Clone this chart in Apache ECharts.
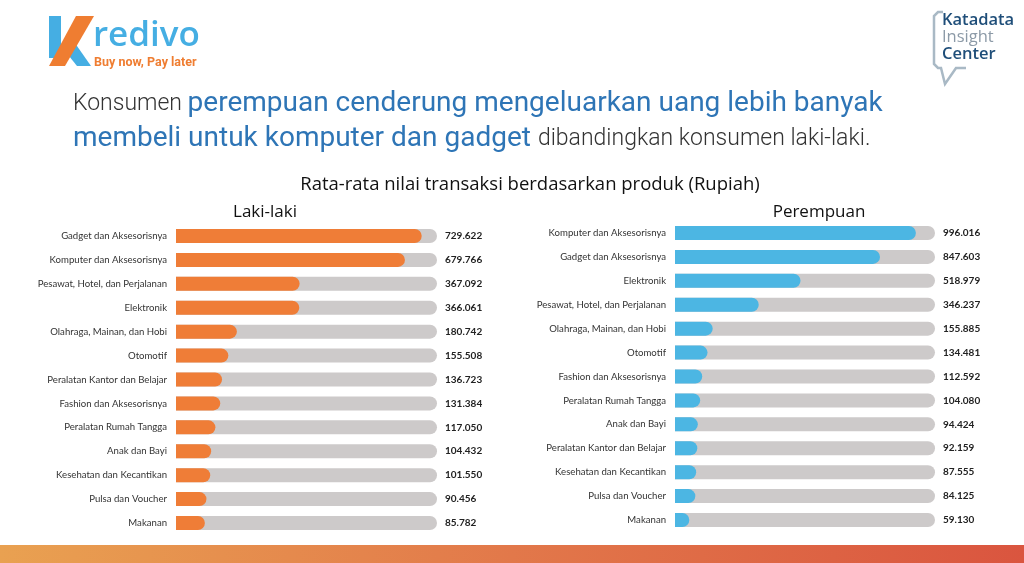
<!DOCTYPE html>
<html>
<head>
<meta charset="utf-8">
<script src="https://cdn.jsdelivr.net/npm/echarts@6/dist/echarts.min.js"></script>
<style>
html,body{margin:0;padding:0;background:#fff;}
#chart{width:1024px;height:563px;}
</style>
</head>
<body>
<div id="chart"></div>
<script>
// ---- data ----
const categoriesMale = [
  'Gadget dan Aksesorisnya',
  'Komputer dan Aksesorisnya',
  'Pesawat, Hotel, dan Perjalanan',
  'Elektronik',
  'Olahraga, Mainan, dan Hobi',
  'Otomotif',
  'Peralatan Kantor dan Belajar',
  'Fashion dan Aksesorisnya',
  'Peralatan Rumah Tangga',
  'Anak dan Bayi',
  'Kesehatan dan Kecantikan',
  'Pulsa dan Voucher',
  'Makanan'
];
const valuesMale = [729.622, 679.766, 367.092, 366.061, 180.742, 155.508, 136.723, 131.384, 117.050, 104.432, 101.550, 90.456, 85.782];

const categoriesFemale = [
  'Komputer dan Aksesorisnya',
  'Gadget dan Aksesorisnya',
  'Elektronik',
  'Pesawat, Hotel, dan Perjalanan',
  'Olahraga, Mainan, dan Hobi',
  'Otomotif',
  'Fashion dan Aksesorisnya',
  'Peralatan Rumah Tangga',
  'Anak dan Bayi',
  'Peralatan Kantor dan Belajar',
  'Kesehatan dan Kecantikan',
  'Pulsa dan Voucher',
  'Makanan'
];
const valuesFemale = [996.016, 847.603, 518.979, 346.237, 155.885, 134.481, 112.592, 104.080, 94.424, 92.159, 87.555, 84.125, 59.130];

const trackMaxMale = 775;
const trackMaxFemale = 1075;

// ---- styles ----
const labelFont = 'Lato';
const orange = '#ef7d37';
const blue = '#4cb6e3';
const track = '#cdcaca';

const chart = echarts.init(document.getElementById('chart'), null, {renderer: 'canvas'});

function yAxisFor(cats, gi) {
  return {
    type: 'category', gridIndex: gi, inverse: true, data: cats,
    axisLine: {show: false}, axisTick: {show: false}, splitLine: {show: false},
    axisLabel: {color: '#333', fontSize: 9.6, fontFamily: labelFont, margin: 9}
  };
}
function xAxisFor(max, gi) {
  return {type: 'value', gridIndex: gi, min: 0, max: max, show: false};
}
function seriesFor(vals, max, color, gi) {
  return [
    {
      type: 'bar', xAxisIndex: gi, yAxisIndex: gi, silent: true,
      data: vals.map(() => max), barWidth: 14, barGap: '-100%', z: 1,
      itemStyle: {color: track, borderRadius: [0, 7, 7, 0]},
      label: {
        show: true, position: 'right', distance: 8,
        formatter: p => vals[p.dataIndex].toFixed(3),
        color: '#222', fontSize: 10, fontWeight: 'bold', fontFamily: labelFont
      }
    },
    {
      type: 'bar', xAxisIndex: gi, yAxisIndex: gi, silent: true,
      data: vals, barWidth: 14, barGap: '-100%', z: 2,
      itemStyle: {color: color, borderRadius: [0, 7, 7, 0]}
    }
  ];
}

const option = {
  backgroundColor: '#fff',
  animation: false,
  grid: [
    {left: 176, top: 224, width: 261, height: 311},
    {left: 675, top: 221, width: 260, height: 311}
  ],
  xAxis: [xAxisFor(trackMaxMale, 0), xAxisFor(trackMaxFemale, 1)],
  yAxis: [yAxisFor(categoriesMale, 0), yAxisFor(categoriesFemale, 1)],
  series: [].concat(
    seriesFor(valuesMale, trackMaxMale, orange, 0),
    seriesFor(valuesFemale, trackMaxFemale, blue, 1)
  ),
  graphic: [
    // bottom band
    {type: 'rect', shape: {x: 0, y: 545, width: 1024, height: 18}, style: {
      fill: new echarts.graphic.LinearGradient(0, 0, 1, 0, [
        {offset: 0, color: '#e9a151'}, {offset: 0.5, color: '#e2784a'}, {offset: 1, color: '#da553f'}
      ])}},
    // Kredivo logo
    {type: 'polygon', shape: {points: [[49,16],[61,16],[61,58],[49,58]]}, style: {fill: '#45aee3'}},
    {type: 'polygon', shape: {points: [[61,46],[70,36],[91,66],[77,66]]}, style: {fill: '#45aee3'}},
    {type: 'polygon', shape: {points: [[76,16],[94,16],[65,66],[49,66]]}, style: {fill: '#ef7d31'}},
    {type: 'text', x: 93, y: 54, style: {text: 'redivo', fill: '#45aee3', font: '600 35px "Open Sans"', align: 'left', verticalAlign: 'bottom'}},
    {type: 'text', x: 94, y: 63, style: {text: 'Buy now, Pay later', fill: '#ef7d31', font: 'bold 12.5px Roboto', align: 'left', verticalAlign: 'middle'}},
    // Katadata logo
    {type: 'polyline', shape: {points: [[943,12],[938,12],[934,16],[934,64],[938,68],[941,68],[945,84],[956,68],[966,68]]},
      style: {stroke: '#a9b9c5', lineWidth: 2.5, fill: null}},
    {type: 'text', x: 942, y: 20, style: {text: 'Katadata', fill: '#1f4e79', font: '600 16.5px "Open Sans"', verticalAlign: 'middle'}},
    {type: 'text', x: 942, y: 37, style: {text: 'Insight', fill: '#8c9aa7', font: '16.5px "Open Sans"', verticalAlign: 'middle'}},
    {type: 'text', x: 942, y: 54, style: {text: 'Center', fill: '#1f4e79', font: '600 16.5px "Open Sans"', verticalAlign: 'middle'}},
    // headline
    {type: 'text', x: 73, y: 104, style: {
      text: '{a|Konsumen }{b|perempuan cenderung mengeluarkan uang lebih banyak}',
      verticalAlign: 'middle', align: 'left',
      rich: {
        a: {fill: '#333', color: '#333', fontFamily: 'Roboto', fontWeight: 300, fontSize: 23},
        b: {fill: '#2e75b6', color: '#2e75b6', fontFamily: 'Roboto', fontSize: 28}
      }}},
    {type: 'text', x: 73, y: 139, style: {
      text: '{b|membeli untuk komputer dan gadget }{a|dibandingkan konsumen laki-laki.}',
      verticalAlign: 'middle', align: 'left',
      rich: {
        a: {fill: '#333', color: '#333', fontFamily: 'Roboto', fontWeight: 300, fontSize: 23},
        b: {fill: '#2e75b6', color: '#2e75b6', fontFamily: 'Roboto', fontSize: 28}
      }}},
    // subtitle and panel titles
    {type: 'text', x: 530, y: 185, style: {text: 'Rata-rata nilai transaksi berdasarkan produk (Rupiah)', fill: '#111', font: '18.5px "Open Sans"', align: 'center', verticalAlign: 'middle'}},
    {type: 'text', x: 265, y: 212, style: {text: 'Laki-laki', fill: '#111', font: '17px "Open Sans"', align: 'center', verticalAlign: 'middle'}},
    {type: 'text', x: 819, y: 212, style: {text: 'Perempuan', fill: '#111', font: '17px "Open Sans"', align: 'center', verticalAlign: 'middle'}}
  ]
};
chart.setOption(option);
</script>
</body>
</html>
